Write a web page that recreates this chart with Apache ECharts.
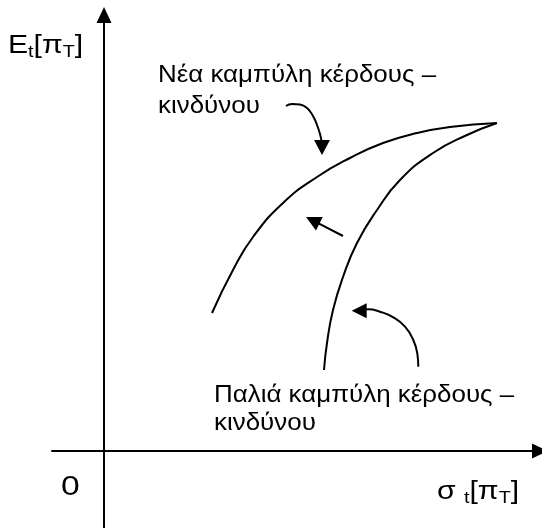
<!DOCTYPE html>
<html>
<head>
<meta charset="utf-8">
<script src="https://cdn.jsdelivr.net/npm/echarts@6/dist/echarts.min.js"></script>
<style>
  html, body { margin: 0; padding: 0; background: #fff; }
  #chart { width: 542px; height: 528px; }
</style>
</head>
<body>
<div id="chart"></div>
<script>
// curves, in axis units (origin where the two axes cross)
const newCurveX = [10.8, 12.9, 14.9, 17.9, 21.3, 24.6, 27.9, 31.3, 34.6, 39.3];
const newCurveY = [13.8, 18.1, 21.4, 24.8, 27.4, 29.3, 30.8, 31.8, 32.4, 32.8];
const oldCurveX = [22.0, 22.3, 22.9, 23.9, 25.3, 27.3, 29.6, 32.9, 36.3, 39.3];
const oldCurveY = [8.1, 10.8, 14.1, 17.4, 20.8, 24.1, 27.1, 29.8, 31.6, 32.8];

// pointer arrows, last point = centre of the arrow head
const arrowNewX = [18.2, 18.8, 19.6, 20.3, 20.9, 21.3, 21.6, 21.75, 21.8];
const arrowNewY = [34.5, 34.7, 34.65, 34.3, 33.5, 32.6, 31.7, 31.0, 30.35];
const arrowShiftX = [23.9, 20.87];
const arrowShiftY = [21.5, 23.06];
const arrowOldX = [31.43, 31.33, 30.93, 30.1, 28.93, 27.6, 26.43, 25.52];
const arrowOldY = [8.43, 9.77, 11.1, 12.43, 13.37, 13.93, 14.17, 14.02];

// texts
const newLabel = 'Νέα καμπύλη κέρδους –\nκινδύνου';
const oldLabel = 'Παλιά καμπύλη κέρδους –\nκινδύνου';
const yName = '{b|E}{s|t}{b|[π}{s|T}{b|]}';
const xName = '{b|σ }{s|t}{b|[π}{s|T}{b|]}';
const originLabel = '0';

const FONT = '"Liberation Sans", Arial, sans-serif';
const zip = (xs, ys) => xs.map((x, i) => [x, ys[i]]);

const curveSeries = (xs, ys) => ({
  type: 'line',
  smooth: 0.5,
  symbol: 'none',
  silent: true,
  lineStyle: {color: '#000', width: 2},
  data: zip(xs, ys)
});

const arrowSeries = (xs, ys, rotate, size) => ({
  type: 'line',
  smooth: 0.5,
  symbol: 'none',
  silent: true,
  lineStyle: {color: '#000', width: 2},
  data: zip(xs, ys).map((p, i) => i === xs.length - 1
    ? {value: p, symbol: 'triangle', symbolSize: size, symbolRotate: rotate, itemStyle: {color: '#000'}}
    : p)
});

const richStyle = {
  b: {fontSize: 26, fontFamily: FONT, lineHeight: 30, color: '#000'},
  s: {fontSize: 17, fontFamily: FONT, lineHeight: 17, verticalAlign: 'bottom', color: '#000'}
};

// the picture's lettering is a bit wider than the font, hence scaleX
const textEl = (x, y, sx, style) => ({
  type: 'text', x: x, y: y, scaleX: sx, silent: true,
  style: Object.assign({x: 0, y: 0, align: 'left', verticalAlign: 'top', fill: '#000', fontFamily: FONT}, style)
});

const axisBase = {
  type: 'value',
  axisTick: {show: false},
  axisLabel: {show: false},
  splitLine: {show: false},
  axisLine: {
    onZero: true,
    symbol: ['none', 'triangle'],
    symbolSize: [15, 16],
    lineStyle: {color: '#000', width: 2}
  }
};

const chart = echarts.init(document.getElementById('chart'));
chart.setOption({
  animation: false,
  backgroundColor: '#fff',
  grid: {left: 52, right: 2, top: 15, bottom: 0},
  xAxis: Object.assign({}, axisBase, {min: -5.2, max: 43.6}),
  yAxis: Object.assign({}, axisBase, {min: -7.7, max: 43.6}),
  series: [
    curveSeries(newCurveX, newCurveY),
    curveSeries(oldCurveX, oldCurveY),
    arrowSeries(arrowNewX, arrowNewY, 180, [16, 15]),
    arrowSeries(arrowShiftX, arrowShiftY, 63, [15, 15]),
    arrowSeries(arrowOldX, arrowOldY, 90, [15, 15])
  ],
  graphic: [
    textEl(8, 31, 1.16, {text: yName, rich: richStyle}),
    textEl(437, 477, 1.16, {text: xName, rich: richStyle}),
    textEl(61, 473, 1.2, {text: originLabel, fontSize: 28}),
    textEl(158, 59.5, 1.08, {text: newLabel, fontSize: 24, lineHeight: 31}),
    textEl(214, 381, 1.08, {text: oldLabel, fontSize: 24, lineHeight: 28})
  ]
});
</script>
</body>
</html>
